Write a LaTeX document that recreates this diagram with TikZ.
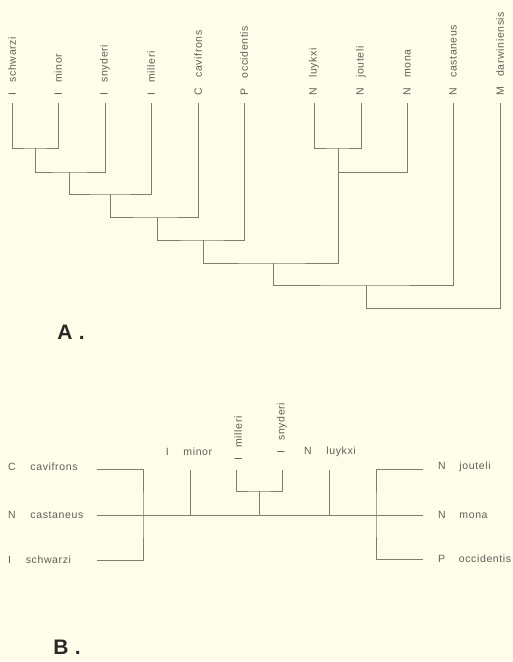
\documentclass[tikz,border=0pt]{standalone}
\usepackage{fontspec}
\setmainfont{Liberation Sans}
\usepackage{tikz}
\definecolor{paper}{RGB}{254,253,233}
\definecolor{branch}{RGB}{125,125,118}
\definecolor{ink}{RGB}{95,95,90}
\definecolor{lettr}{RGB}{40,40,38}
\newcommand{\taxon}[3][1em]{#2\hspace{#1}#3}

\begin{document}
\begin{tikzpicture}[x=1pt,y=-1pt,
    lab/.style={font=\fontsize{10.5}{12}\selectfont\addfontfeature{LetterSpace=6}, text=ink, inner sep=0pt},
    vlab/.style={lab, rotate=90, anchor=west},
    br/.style={draw=branch, line width=0.75pt},
    panel/.style={font=\fontsize{21}{24}\selectfont\bfseries, text=lettr, inner sep=0pt}]
    \fill[paper] (0,0) rectangle (513,662);
    \useasboundingbox (0,0) rectangle (513,662);

    % A. tree, leaves at top
    \node (lsch) at (12,96) [vlab] {\taxon{I}{schwarzi}};
    \node (lmin) at (58,96) [vlab] {\taxon{I}{minor}};
    \node (lsny) at (105,96) [vlab] {\taxon{I}{snyderi}};
    \node (lmil) at (151,96) [vlab] {\taxon{I}{milleri}};
    \node (lcav) at (198,96) [vlab] {\taxon{C}{cavifrons}};
    \node (locc) at (244,96) [vlab] {\taxon{P}{occidentis}};
    \node (lluy) at (314,96) [vlab] {\taxon{N}{luykxi}};
    \node (ljou) at (361,96) [vlab] {\taxon{N}{jouteli}};
    \node (lmon) at (407,96) [vlab] {\taxon{N}{mona}};
    \node (lcas) at (453,96) [vlab] {\taxon{N}{castaneus}};
    \node (ldar) at (500,96) [vlab] {\taxon{M}{darwiniensis}};
    \coordinate (sch) at (12,103);
    \coordinate (min) at (58,103);
    \coordinate (sny) at (105,103);
    \coordinate (mil) at (151,103);
    \coordinate (cav) at (198,103);
    \coordinate (occ) at (244,103);
    \coordinate (luy) at (314,103);
    \coordinate (jou) at (361,103);
    \coordinate (mon) at (407,103);
    \coordinate (cas) at (453,103);
    \coordinate (dar) at (500,103);
    \coordinate (n1) at (35,148);
    \coordinate (n2) at (69,172);
    \coordinate (n3) at (110,194);
    \coordinate (n4) at (157,217);
    \coordinate (n5) at (203,240);
    \coordinate (m1) at (338,148);
    \coordinate (m2) at (338,172);
    \coordinate (n6) at (273,263);
    \coordinate (n7) at (366,285);
    \coordinate (n8) at (366,308);
    \draw[br] (sch) |- (n1) -| (min);
    \draw[br] (n1) |- (n2) -| (sny);
    \draw[br] (n2) |- (n3) -| (mil);
    \draw[br] (n3) |- (n4) -| (cav);
    \draw[br] (n4) |- (n5) -| (occ);
    \draw[br] (luy) |- (m1) -| (jou);
    \draw[br] (m1) |- (m2) -| (mon);
    \draw[br] (n5) |- (n6) -| (m2);
    \draw[br] (n6) |- (n7) -| (cas);
    \draw[br] (n7) |- (n8) -| (dar);
    \node (pa) at (71,332) [panel] {A\hspace{0.3em}.};

    % B. network, castaneus line through the middle
    \node (bcav) at (8,467) [lab, anchor=west] {\taxon[1.4em]{C}{cavifrons}};
    \node (bcas) at (8,515) [lab, anchor=west] {\taxon[1.4em]{N}{castaneus}};
    \node (bsch) at (8,560) [lab, anchor=west] {\taxon[1.4em]{I}{schwarzi}};
    \node (bmin) at (189,452) [lab] {\taxon[1.4em]{I}{minor}};
    \node (bmil) at (238,461) [vlab] {\taxon{I}{milleri}};
    \node (bsny) at (282,454) [vlab] {\taxon{I}{snyderi}};
    \node (bluy) at (330,452) [lab] {\taxon[1.4em]{N}{luykxi}};
    \node (bjou) at (438,467) [lab, anchor=west] {\taxon[1.3em]{N}{jouteli}};
    \node (bmon) at (438,515) [lab, anchor=west] {\taxon[1.3em]{N}{mona}};
    \node (bocc) at (438,559) [lab, anchor=west] {\taxon[1.3em]{P}{occidentis}};
    \coordinate (tcav) at (97,469);
    \coordinate (tcas) at (97,515);
    \coordinate (tsch) at (97,560);
    \coordinate (tmin) at (190,470);
    \coordinate (tmil) at (236,470);
    \coordinate (tsny) at (282,470);
    \coordinate (tluy) at (329,470);
    \coordinate (tjou) at (423,469);
    \coordinate (tmon) at (423,515);
    \coordinate (tocc) at (423,559);
    \coordinate (k1) at (143,515);
    \coordinate (k2) at (190,515);
    \coordinate (k3) at (259,491);
    \coordinate (k4) at (259,515);
    \coordinate (k5) at (329,515);
    \coordinate (k6) at (376,515);
    \draw[br] (tcas) -- (tmon);
    \draw[br] (tcav) -| (k1) |- (tsch);
    \draw[br] (tmin) -- (k2);
    \draw[br] (tmil) |- (k3) -| (tsny);
    \draw[br] (k3) -- (k4);
    \draw[br] (tluy) -- (k5);
    \draw[br] (tjou) -| (k6) |- (tocc);
    \node (pb) at (67,647) [panel] {B\hspace{0.3em}.};
\end{tikzpicture}
\end{document}
